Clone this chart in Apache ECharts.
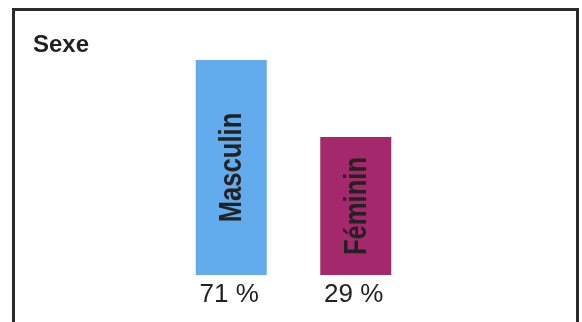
<!DOCTYPE html>
<html>
<head>
<meta charset="utf-8">
<script src="https://cdn.jsdelivr.net/npm/echarts@6/dist/echarts.min.js"></script>
<style>
  html, body { margin: 0; padding: 0; background: #fff; }
  #chart { width: 582px; height: 322px; }
</style>
</head>
<body>
<div id="chart"></div>
<script>
  const title = 'Sexe';
  const categories = ['Masculin', 'Féminin'];
  const percents = [71, 29];
  const colors = ['#62abec', '#a3296c'];

  // value axis starts below zero in the original, bars grow from the axis start
  const yMin = -46.3;
  const yMax = 71;

  const chart = echarts.init(document.getElementById('chart'), null, { renderer: 'canvas' });

  chart.setOption({
    animation: false,
    backgroundColor: '#fff',
    title: {
      text: title,
      left: 33,
      top: 33,
      padding: 0,
      textStyle: { fontFamily: 'Liberation Sans, Arial, sans-serif', fontSize: 24, fontWeight: 'bold', color: '#222' }
    },
    graphic: [{
      type: 'rect',
      shape: { x: 13.5, y: 9.5, width: 564, height: 400 },
      style: { fill: 'none', stroke: '#2b2b2b', lineWidth: 3 },
      silent: true
    }],
    grid: { left: 169, width: 249, top: 60, height: 215 },
    xAxis: {
      type: 'category',
      data: percents.map(v => v + ' %'),
      axisLine: { show: false },
      axisTick: { show: false },
      axisLabel: {
        margin: 7,
        padding: [0, 4, 0, 0],
        fontFamily: 'Liberation Sans, Arial, sans-serif',
        fontSize: 26,
        color: '#222'
      }
    },
    yAxis: { type: 'value', min: yMin, max: yMax, startValue: yMin, show: false, splitLine: { show: false } },
    series: [
      {
        type: 'bar',
        barWidth: 71,
        data: percents.map((v, i) => ({ value: v, itemStyle: { color: colors[i] } }))
      },
      {
        // rotated, narrowed category names centred in each bar
        type: 'custom',
        z: 10,
        data: percents.map((v, i) => [i, v]),
        renderItem: (params, api) => {
          const top = api.coord([api.value(0), api.value(1)]);
          const base = api.coord([api.value(0), yMin]);
          return {
            type: 'text',
            x: top[0] + 1,
            y: (top[1] + base[1]) / 2,
            rotation: Math.PI / 2,
            scaleX: 0.8,
            style: {
              text: categories[params.dataIndex],
              fontFamily: 'Liberation Sans, Arial, sans-serif',
              fontWeight: 'bold',
              fontSize: 32,
              fill: '#222',
              align: 'center',
              verticalAlign: 'middle'
            }
          };
        }
      }
    ]
  });
</script>
</body>
</html>
